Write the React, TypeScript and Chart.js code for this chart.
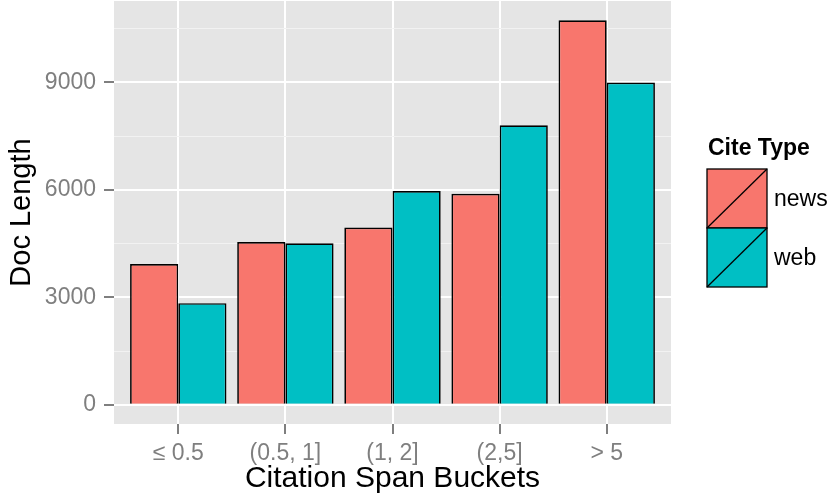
import React, { useEffect, useRef } from "react";
import { Chart, registerables } from "chart.js";

Chart.register(...registerables);

const categories = ["≤ 0.5", "(0.5, 1]", "(1, 2]", "(2,5]", "> 5"];
const newsValues = [3930, 4546, 4949, 5891, 10737];
const webValues = [2838, 4510, 5966, 7806, 9000];
const yMajorTicks = [0, 3000, 6000, 9000];
const yMinorTicks = [1500, 4500, 7500, 10500];
const seriesNames = ["news", "web"];
const seriesColors = ["#F8766D", "#00BFC4"];
const legendTitle = "Cite Type";
const xTitle = "Citation Span Buckets";
const yTitle = "Doc Length";

const FONT = "'Liberation Sans', Arial, Helvetica, sans-serif";
const GREY = "#7F7F7F";

export default function App() {
  const ref = useRef<HTMLCanvasElement>(null);

  useEffect(() => {
    const canvas = ref.current;
    if (!canvas) return;
    const dataMax = Math.max(...newsValues, ...webValues);
    const yMin = -0.05 * dataMax;
    const yMax = dataMax * 1.05;
    const xMin = 1 - 0.6;
    const xMax = categories.length + 0.6;
    const isMajor = (v: number) => yMajorTicks.includes(v);

    const panelBg = {
      id: "panelBg",
      beforeDraw(chart: any) {
        const { ctx, chartArea } = chart;
        ctx.save();
        ctx.fillStyle = "#E5E5E5";
        ctx.fillRect(chartArea.left, chartArea.top, chartArea.right - chartArea.left, chartArea.bottom - chartArea.top);
        ctx.restore();
      },
    };

    const legendPlugin = {
      id: "ggLegend",
      afterDraw(chart: any) {
        const { ctx } = chart;
        ctx.save();
        ctx.fillStyle = "#000";
        ctx.font = `bold 23px ${FONT}`;
        ctx.textBaseline = "alphabetic";
        ctx.textAlign = "left";
        ctx.fillText(legendTitle, 708, 155);
        const kx = 707, ky = 169, kw = 60, kh = 59;
        seriesNames.forEach((name, i) => {
          const y = ky + i * kh;
          ctx.fillStyle = seriesColors[i];
          ctx.fillRect(kx, y, kw, kh);
          ctx.strokeStyle = "#000";
          ctx.lineWidth = 1.3;
          ctx.strokeRect(kx, y, kw, kh);
          ctx.beginPath();
          ctx.moveTo(kx, y + kh);
          ctx.lineTo(kx + kw, y);
          ctx.stroke();
          ctx.fillStyle = "#000";
          ctx.font = `23px ${FONT}`;
          ctx.textBaseline = "middle";
          ctx.fillText(name, 774, y + kh / 2 + 1);
        });
        ctx.restore();
      },
    };

    const chart = new Chart(canvas, {
      type: "bar",
      data: {
        datasets: [
          {
            label: seriesNames[0],
            data: newsValues.map((v, i) => ({ x: i + 1, y: v })),
            backgroundColor: seriesColors[0],
            borderColor: "#000",
            borderWidth: 1.7,
            categoryPercentage: 0.9,
            barPercentage: 1.0,
          },
          {
            label: seriesNames[1],
            data: webValues.map((v, i) => ({ x: i + 1, y: v })),
            backgroundColor: seriesColors[1],
            borderColor: "#000",
            borderWidth: 1.7,
            categoryPercentage: 0.9,
            barPercentage: 1.0,
          },
        ],
      },
      options: {
        responsive: false,
        animation: false,
        layout: { padding: { top: 1, right: 161, left: 0, bottom: 0 } },
        plugins: { legend: { display: false }, tooltip: { enabled: false } },
        scales: {
          x: {
            type: "linear",
            min: xMin,
            max: xMax,
            offset: false,
            afterBuildTicks(scale: any) {
              scale.ticks = categories.map((_, i) => ({ value: i + 1 }));
            },
            afterFit(scale: any) {
              scale.height = 71;
              scale.paddingLeft = 0;
              scale.paddingRight = 0;
            },
            ticks: {
              autoSkip: false,
              maxRotation: 0,
              minRotation: 0,
              padding: 6,
              color: GREY,
              font: { family: FONT, size: 23 },
              callback: (v: any) => categories[Math.round(Number(v)) - 1] ?? "",
            },
            grid: {
              offset: false,
              color: "#FFFFFF",
              lineWidth: 2,
              tickColor: GREY,
              tickWidth: 2,
              tickLength: 10,
              drawTicks: true,
            },
            border: { display: false },
            title: {
              display: true,
              text: xTitle,
              color: "#000",
              font: { family: FONT, size: 30, lineHeight: 1.2 },
              padding: { top: 0, bottom: -2 },
            },
          },
          y: {
            type: "linear",
            min: yMin,
            max: yMax,
            afterBuildTicks(scale: any) {
              scale.ticks = [...yMajorTicks, ...yMinorTicks].sort((a, b) => a - b).map((v) => ({ value: v }));
            },
            afterFit(scale: any) {
              scale.width = 114;
              scale.paddingTop = 0;
              scale.paddingBottom = 0;
            },
            ticks: {
              autoSkip: false,
              padding: 8,
              color: GREY,
              font: { family: FONT, size: 23 },
              callback: (v: any) => (isMajor(Number(v)) ? String(v) : ""),
            },
            grid: {
              color: (c: any) => (isMajor(c.tick?.value) ? "#FFFFFF" : "#F2F2F2"),
              lineWidth: (c: any) => (isMajor(c.tick?.value) ? 2 : 1),
              tickColor: (c: any) => (isMajor(c.tick?.value) ? GREY : "rgba(0,0,0,0)"),
              tickWidth: 2,
              tickLength: 10,
            },
            border: { display: false },
            title: {
              display: true,
              text: yTitle,
              color: "#000",
              font: { family: FONT, size: 29, lineHeight: 1.2 },
              padding: { top: 5, bottom: 0 },
            },
          },
        },
      },
      plugins: [panelBg, legendPlugin],
    } as any);

    return () => chart.destroy();
  }, []);

  return (
    <div style={{ position: "absolute", left: 0, top: 0, width: 832, height: 495 }}>
      <canvas ref={ref} width={832} height={495} style={{ width: 832, height: 495, display: "block" }} />
    </div>
  );
}
